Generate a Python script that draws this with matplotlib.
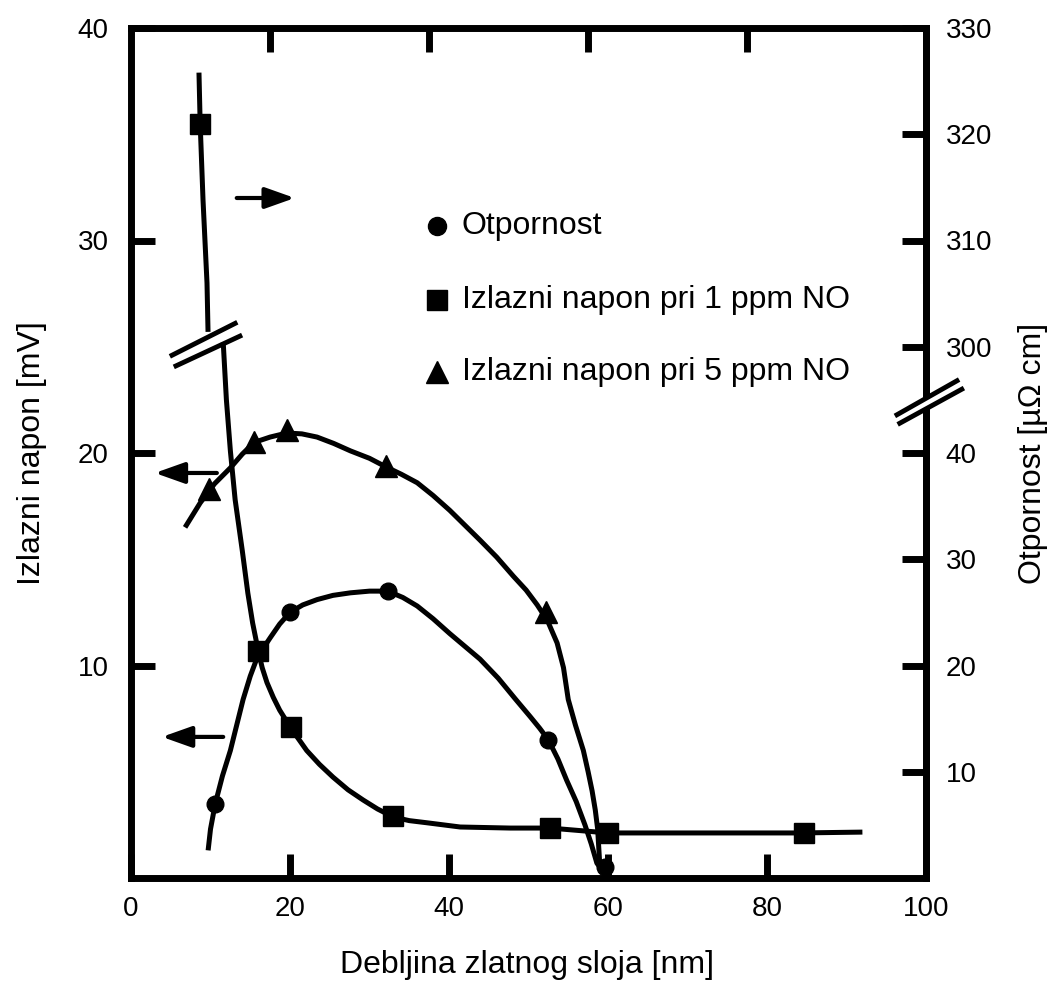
import matplotlib.pyplot as plt

plt.rcParams['font.family'] = ['Liberation Sans', 'DejaVu Sans']

# ─── DATA (left-axis units) ───────────────────────────────────
# measured points
res_x = [10.6, 20.0, 32.3, 52.5, 59.6]
res_y = [3.5, 12.5, 13.5, 6.5, 0.5]

no1_x = [8.7, 16.0, 20.1, 33.0, 52.7, 60.0, 84.7]
no1_y = [35.5, 10.7, 7.1, 2.9, 2.35, 2.1, 2.1]

no5_x = [9.8, 15.5, 19.6, 32.1, 52.2]
no5_y = [18.3, 20.5, 21.1, 19.4, 12.5]

# hand drawn curves through the points (traced)
res_curve_x = [9.7, 10.0, 10.6, 11.5, 12.5, 13.3, 14.1, 15.0, 15.9, 17.5, 18.7,
               20.0, 21.6, 23.4, 25.4, 27.6, 30.0, 32.3, 34.2, 36.0, 38.0,
               40.1, 42.0, 43.9, 46.2, 48.4, 50.2, 51.4, 52.5, 53.7, 54.8,
               56.0, 57.1, 57.9, 58.6, 59.4]
res_curve_y = [1.3, 2.3, 3.5, 4.8, 6.0, 7.2, 8.4, 9.5, 10.4, 11.3, 11.95,
               12.5, 12.85, 13.1, 13.3, 13.42, 13.5, 13.5, 13.2, 12.8, 12.2,
               11.5, 10.9, 10.3, 9.4, 8.4, 7.6, 7.05, 6.5, 5.6, 4.6,
               3.6, 2.5, 1.6, 0.7, 0.3]

no1_upper_x = [8.55, 8.7, 9.06, 9.56, 9.69]
no1_upper_y = [37.9, 35.5, 31.9, 28.0, 25.7]
no1_lower_x = [11.6, 12.0, 12.5, 13.1, 14.0, 14.7, 15.3, 16.0, 16.5, 17.1, 17.9,
               18.7, 20.1, 22.1, 23.7, 25.4, 27.3, 29.2, 31.0, 33.0, 35.0,
               37.2, 41.4, 47.7, 52.7, 60.0, 68.2, 84.2, 92.0]
no1_lower_y = [25.2, 22.5, 20.1, 17.8, 15.4, 13.4, 12.0, 10.7, 9.9, 9.2, 8.5,
               7.9, 7.06, 6.0, 5.35, 4.75, 4.15, 3.67, 3.25, 2.87, 2.7,
               2.6, 2.4, 2.35, 2.35, 2.12, 2.12, 2.12, 2.16]

no5_curve_x = [6.8, 8.7, 10.5, 12.5, 14.0, 15.5, 17.5, 19.6, 21.5, 23.4, 25.5,
               27.6, 30.0, 32.1, 34.0, 36.0, 38.0, 40.1, 42.0, 43.9, 46.0,
               48.1, 49.7, 51.1, 52.4, 53.6, 54.4, 55.0, 55.9, 56.9, 57.5,
               58.0, 58.4, 58.7, 59.0]
no5_curve_y = [16.5, 17.65, 18.55, 19.3, 19.95, 20.5, 20.75, 20.94, 20.9, 20.75, 20.45,
               20.1, 19.75, 19.34, 19.0, 18.6, 18.0, 17.3, 16.6, 15.9, 15.1,
               14.2, 13.55, 12.85, 12.1, 11.06, 9.9, 8.4, 7.2, 6.0, 5.0,
               4.1, 3.2, 2.3, 0.4]

x_ticks = [0, 20, 40, 60, 80, 100]
top_ticks = [17.5, 37.5, 57.5, 77.5]
left_ticks = [10, 20, 30, 40]
right_ticks = [10, 20, 30, 40, 50, 60, 70, 80]
right_labels = ['10', '20', '30', '40', '300', '310', '320', '330']

legend_names = ['Otpornost', 'Izlazni napon pri 1 ppm NO', 'Izlazni napon pri 5 ppm NO']

# ─── FIGURE ───────────────────────────────────────────────────
fig = plt.figure(figsize=(10.53, 9.85), dpi=100)
ax = fig.add_axes([131 / 1053, 1 - 878 / 985, 795 / 1053, 850 / 985])
ax.set_xlim(0, 100)
ax.set_ylim(0, 40)

line_kw = dict(color='black', lw=3.6, solid_capstyle='butt', solid_joinstyle='round')
ax.plot(res_curve_x, res_curve_y, **line_kw)
ax.plot(no5_curve_x, no5_curve_y, **line_kw)
ax.plot(no1_upper_x, no1_upper_y, **line_kw)
ax.plot(no1_lower_x, no1_lower_y, **line_kw)

ax.plot(res_x, res_y, 'o', color='black', ms=12, clip_on=False, zorder=5)
ax.plot(no1_x, no1_y, 's', color='black', ms=14, clip_on=False, zorder=5)
ax.plot(no5_x, no5_y, '^', color='black', ms=16, clip_on=False, zorder=5)

# legend drawn by hand
for i, (m, ms, name) in enumerate(zip(['o', 's', '^'], [13, 14, 16], legend_names)):
    yy = [30.7, 27.2, 23.8][i]
    ax.plot([38.5], [yy], m, color='black', ms=ms)
    ax.text(41.6, yy, name, fontsize=23, va='center', ha='left')

# arrows showing which axis
arr = dict(arrowstyle='-|>,head_length=0.9,head_width=0.32', color='black',
           lw=3, mutation_scale=20, shrinkA=0, shrinkB=0)
ax.annotate('', xy=(20.6, 32.0), xytext=(13.3, 32.0), arrowprops=arr)
ax.annotate('', xy=(3.0, 19.06), xytext=(10.8, 19.06), arrowprops=arr)
ax.annotate('', xy=(3.9, 6.64), xytext=(11.6, 6.64), arrowprops=arr)

# axes styling
for s in ax.spines.values():
    s.set_linewidth(5)
ax.set_xticks(x_ticks)
ax.set_xticks(top_ticks, minor=True)
ax.set_yticks(left_ticks)
ax.tick_params(axis='both', which='major', direction='in', length=17, width=5,
               labelsize=20)
ax.tick_params(axis='x', which='major', pad=13)
ax.tick_params(axis='y', which='major', pad=16)
ax.tick_params(axis='x', which='minor', direction='in', length=17, width=5,
               top=True, bottom=False, labeltop=False, labelbottom=False)

ax2 = ax.twinx()
ax2.set_ylim(0, 80)
ax2.set_yticks(right_ticks)
ax2.set_yticklabels(right_labels)
ax2.tick_params(axis='y', direction='in', length=17, width=5, labelsize=20, pad=14)
for side in ['left', 'top', 'bottom']:
    ax2.spines[side].set_visible(False)
ax2.spines['right'].set_linewidth(5)

# axis break marks
brk = dict(transform=ax.transData, clip_on=False, zorder=10)
ax2.plot([5.4, 13.4], [24.35, 25.8], color='white', lw=5, **brk)
ax2.plot([5.16, 13.1], [24.6, 26.1], color='black', lw=3.5, **brk)
ax2.plot([5.66, 13.7], [24.1, 25.5], color='black', lw=3.5, **brk)
ax2.plot([96.5, 104.2], [21.6, 23.2], color='white', lw=6, **brk)
ax2.plot([96.35, 103.9], [21.8, 23.4], color='black', lw=3.5, **brk)
ax2.plot([96.7, 104.5], [21.4, 23.0], color='black', lw=3.5, **brk)

fig.text(0.5005, 1 - 965 / 985, 'Debljina zlatnog sloja [nm]', fontsize=23,
         ha='center', va='center')
fig.text(32 / 1053, 1 - 453 / 985, 'Izlazni napon [mV]', fontsize=23,
         ha='center', va='center', rotation=90)
fig.text(1033 / 1053, 1 - 453 / 985, 'Otpornost [µΩ cm]', fontsize=23,
         ha='center', va='center', rotation=90)

fig.savefig('out.png', dpi=100)
